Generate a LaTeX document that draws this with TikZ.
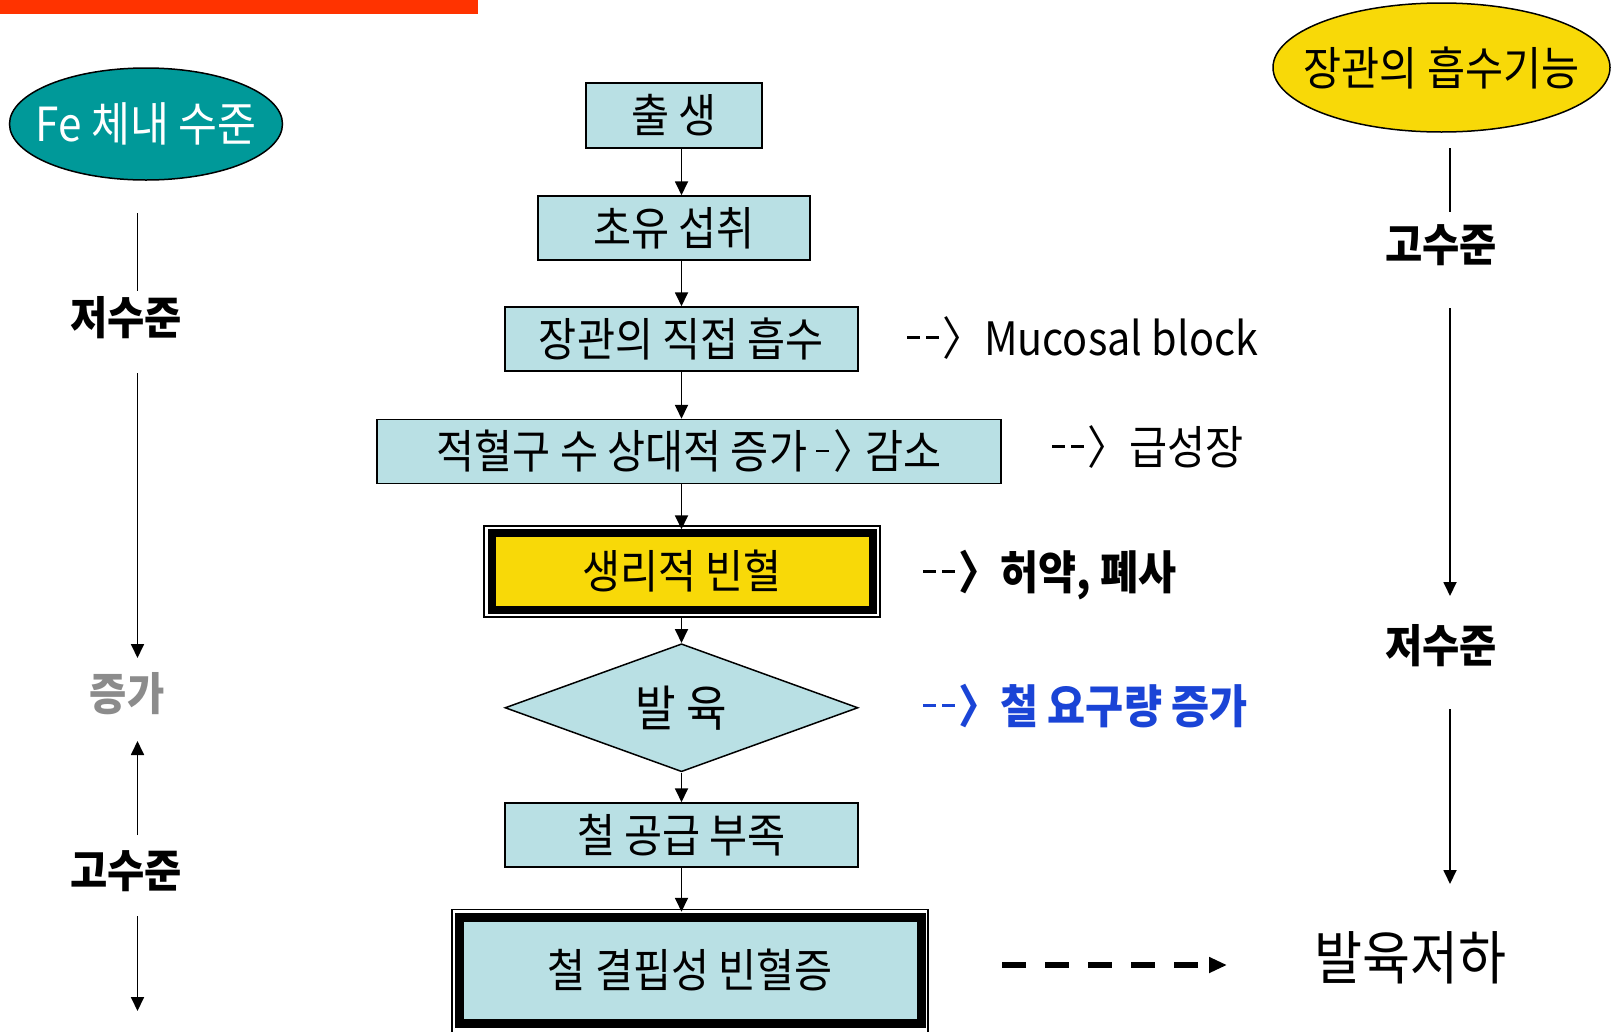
\documentclass[tikz,border=0pt]{standalone}
\usepackage{fontspec}
\setmainfont{Noto Sans CJK KR}[FakeStretch=0.9]
\usetikzlibrary{arrows.meta,shapes.geometric}
\definecolor{boxc}{RGB}{185,224,228}
\definecolor{tealc}{RGB}{0,153,153}
\definecolor{yelc}{RGB}{248,217,8}
\definecolor{orc}{RGB}{255,51,0}
\definecolor{bluec}{RGB}{26,68,214}
\definecolor{grayc}{RGB}{140,140,140}
\newcommand\dsh{\rule[0.36em]{0.28em}{0.06em}}
\newcommand\bdsh{\rule[0.35em]{0.28em}{0.08em}}
\newcommand\rarr{\dsh\kern0.13em\dsh\kern0.08em〉\kern-0.2em}
\newcommand\brarr{\bdsh\kern0.13em\bdsh\kern0.08em〉\kern-0.2em}
\newcommand\sarr{\dsh\kern0.08em〉\kern-0.4em}
\tikzset{
  box/.style={draw, line width=1.5pt, fill=boxc, inner sep=0pt, font=\fontsize{46}{52}\selectfont},
  frame/.style={draw, line width=1.5pt, inner sep=0pt},
  arr/.style={line width=1.8pt, -{Triangle[length=14pt,width=13pt]}},
  ln/.style={line width=1.8pt},
  lvl/.style={inner sep=0pt, font=\fontsize{45}{50}\selectfont\bfseries},
  side/.style={anchor=west, inner sep=0pt, font=\fontsize{46}{52}\selectfont},
  oval/.style={ellipse, draw, line width=1.5pt, inner sep=0pt},
}
\begin{document}
\begin{tikzpicture}[x=1pt,y=-1pt]
\useasboundingbox (0,0) rectangle (1620,1031);
\fill[orc] (0,0) rectangle (478,13.5);

% ovals
\node[oval, fill=tealc, text=white, minimum width=273, minimum height=112, font=\fontsize{47}{52}\selectfont] (fe) at (146,124) {\makebox[0pt]{Fe 체내 수준}};
\node[oval, fill=yelc, minimum width=337, minimum height=129, font=\fontsize{46}{52}\selectfont] (gut) at (1441.5,67.5) {\makebox[0pt]{장관의 흡수기능}};

% central flow
\coordinate (ax) at (681.5,0);
\node[box, minimum width=176, minimum height=65] (a1) at (674,115.5) {출 생};
\node[box, minimum width=272, minimum height=64] (a2) at (674,228) {초유 섭취};
\node[box, minimum width=353, minimum height=64] (a3) at (681.5,339) {장관의 직접 흡수};
\node[box, minimum width=624, minimum height=64] (a4) at (689,451.5) {적혈구 수 상대적 증가 \sarr{} 감소};
\node[frame, minimum width=396, minimum height=91] (a5o) at (682,571.5) {};
\node[box, fill=yelc, line width=8pt, minimum width=381, minimum height=76.5] (a5) at (682,571.25) {생리적 빈혈};
\node[box, diamond, aspect=2.75, minimum width=353, minimum height=128, font=\fontsize{49}{54}\selectfont] (a6) at (681.5,707.75) {\makebox[0pt]{발 육}};
\node[box, minimum width=353, minimum height=64] (a7) at (681.5,835) {철 공급 부족};
\node[frame, minimum width=476, minimum height=125.5] (a8o) at (690,972.25) {};
\node[box, line width=9pt, minimum width=461.5, minimum height=105.5] (a8) at (690.25,970.25) {철 결핍성 빈혈증};

\draw[arr] (a1.south -| ax) -- (a2.north -| ax);
\draw[arr] (a2.south -| ax) -- (a3.north -| ax);
\draw[arr] (a3.south -| ax) -- (a4.north -| ax);
\draw[arr, shorten >=-4pt] (a4.south -| ax) -- (a5o.north -| ax);
\draw[arr] (a5o.south -| ax) -- (a6.north);
\draw[arr] (a6.south) -- (a7.north -| ax);
\draw[arr, shorten >=-3pt] (a7.south -| ax) -- (a8o.north -| ax);

% side notes
\node[side] (s1) at (907,338) {\rarr{} Mucosal block};
\node[side] (s2) at (1052,447) {\rarr{} 급성장};
\node[side, font=\fontsize{46}{52}\selectfont\bfseries] (s3) at (923,575) {\brarr{} 허약, 폐사};
\node[side, font=\fontsize{46}{52}\selectfont\bfseries, text=bluec] (s4) at (923,706) {\brarr{} 철 요구량 증가};
\node[side, font=\fontsize{58}{64}\selectfont] (grow) at (1314,958) {발육저하};
\coordinate (dstart) at (1002,965);
\draw[line width=5.5pt, dash pattern=on 24pt off 19pt, -{Triangle[length=18pt,width=15pt]}] (dstart) -- (dstart -| 1227,0);

% left column
\node[lvl] (lowL) at (126,318) {저수준};
\node[lvl, text=grayc] (incL) at (127,694) {증가};
\node[lvl] (highL) at (126,871) {고수준};
\coordinate (L1a) at (137.5,213); \coordinate (L1b) at (137.5,291);
\coordinate (L2a) at (137.5,373); \coordinate (L2b) at (137.5,658);
\coordinate (L3a) at (137.5,835); \coordinate (L3b) at (137.5,741);
\coordinate (L4a) at (137.5,916); \coordinate (L4b) at (137.5,1011);
\draw[ln] (L1a) -- (L1b);
\draw[arr] (L2a) -- (L2b);
\draw[arr] (L3a) -- (L3b);
\draw[arr] (L4a) -- (L4b);

% right column
\node[lvl] (highR) at (1441,245) {고수준};
\node[lvl] (lowR) at (1441,646) {저수준};
\coordinate (R1a) at (1450,148); \coordinate (R1b) at (1450,212);
\coordinate (R2a) at (1450,308); \coordinate (R2b) at (1450,596);
\coordinate (R3a) at (1450,709); \coordinate (R3b) at (1450,884);
\draw[ln] (R1a) -- (R1b);
\draw[arr] (R2a) -- (R2b);
\draw[arr] (R3a) -- (R3b);
\end{tikzpicture}
\end{document}
